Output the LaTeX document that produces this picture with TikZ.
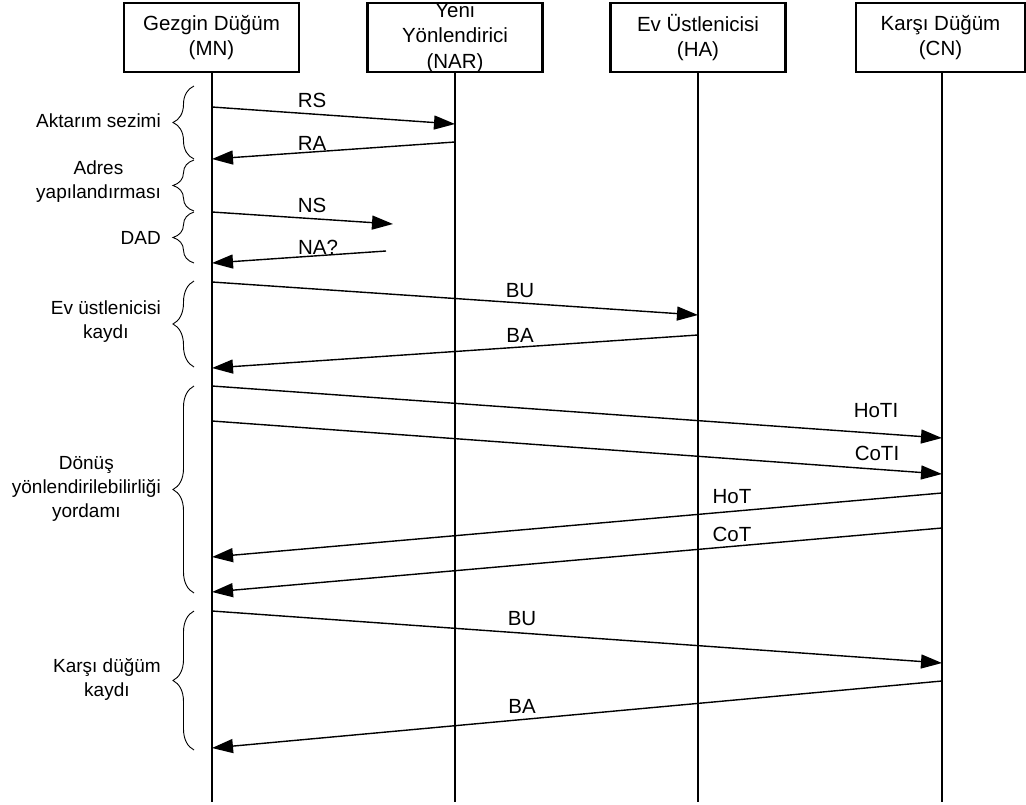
\documentclass[tikz,border=0pt]{standalone}
\usepackage{fontspec}
\setmainfont{Liberation Sans}
\usetikzlibrary{arrows.meta,decorations.pathreplacing}

\tikzset{
  actorbox/.style={draw, line width=2.6pt, minimum width=#1, minimum height=69pt, inner sep=0pt},
  actorbox/.default=175pt,
  headtxt/.style={align=center, inner sep=0pt, font=\fontsize{20.5}{25.5}\selectfont},
  lifeline/.style={line width=2.6pt},
  msg/.style={line width=1.4pt, -{Triangle[length=21pt,width=14pt]}},
  msgtxt/.style={inner sep=0pt, font=\fontsize{20.5}{24}\selectfont},
  phase/.style={line width=0.9pt, decorate, decoration={brace, amplitude=21pt, aspect=0.5}},
  phasetxt/.style={align=center, anchor=east, inner sep=0pt, font=\fontsize{19}{24}\selectfont}
}

\begin{document}
\begin{tikzpicture}[x=1pt, y=-1pt]
  \useasboundingbox (0,0) rectangle (1026,804);

  % participants
  \node[actorbox] (mn)  at (211.5,37.5) {};
  \node[actorbox] (nar) at (455,37.5) {};
  \node[actorbox] (ha)  at (698,37.5) {};
  \node[actorbox=169pt] (cn) at (940.5,37.5) {};
  \node[headtxt] (mnt)  at (mn)  {Gezgin Düğüm\\(MN)};
  \node[headtxt] (nart) at (nar) {Yeni\\Yönlendirici\\(NAR)};
  \node[headtxt] (hat)  at (ha)  {Ev Üstlenicisi\\(HA)};
  \node[headtxt] (cnt)  at (cn)  {Karşı Düğüm\\(CN)};

  % lifelines
  \coordinate (mnend)  at (212,802);
  \coordinate (narend) at (455,802);
  \coordinate (haend)  at (698,802);
  \coordinate (cnend)  at (942,802);
  \draw[lifeline] (mn.south -| mnend) -- (mnend);
  \draw[lifeline] (nar.south -| narend) -- (narend);
  \draw[lifeline] (ha.south -| haend) -- (haend);
  \draw[lifeline] (cn.south -| cnend) -- (cnend);

  % message end points
  \coordinate (rs1) at (212,107);  \coordinate (rs2) at (455,124);
  \coordinate (ra1) at (455,142);  \coordinate (ra2) at (212,159);
  \coordinate (ns1) at (212,212);  \coordinate (ns2) at (393,224);
  \coordinate (na1) at (386,251);  \coordinate (na2) at (212,263);
  \coordinate (bua1) at (212,282); \coordinate (bua2) at (698,315);
  \coordinate (baa1) at (698,335); \coordinate (baa2) at (212,368);
  \coordinate (hoti1) at (212,386); \coordinate (hoti2) at (942,438);
  \coordinate (coti1) at (212,421); \coordinate (coti2) at (942,474);
  \coordinate (hot1) at (942,493); \coordinate (hot2) at (212,557);
  \coordinate (cot1) at (942,528); \coordinate (cot2) at (212,592);
  \coordinate (bub1) at (212,611); \coordinate (bub2) at (942,663);
  \coordinate (bab1) at (942,681); \coordinate (bab2) at (212,748);

  % messages
  \draw[msg] (rs1) -- (rs2);
  \draw[msg] (ra1) -- (ra2);
  \draw[msg] (ns1) -- (ns2);
  \draw[msg] (na1) -- (na2);
  \draw[msg] (bua1) -- (bua2);
  \draw[msg] (baa1) -- (baa2);
  \draw[msg] (hoti1) -- (hoti2);
  \draw[msg] (coti1) -- (coti2);
  \draw[msg] (hot1) -- (hot2);
  \draw[msg] (cot1) -- (cot2);
  \draw[msg] (bub1) -- (bub2);
  \draw[msg] (bab1) -- (bab2);

  % message labels
  \node[msgtxt] (lrs)   at (312,100) {RS};
  \node[msgtxt] (lra)   at (312,143) {RA};
  \node[msgtxt] (lns)   at (312,205) {NS};
  \node[msgtxt] (lna)   at (318,247) {NA?};
  \node[msgtxt] (lbua)  at (520,291) {BU};
  \node[msgtxt] (lbaa)  at (520,335) {BA};
  \node[msgtxt] (lhoti) at (876,411) {HoTI};
  \node[msgtxt] (lcoti) at (877,453) {CoTI};
  \node[msgtxt] (lhot)  at (732,497) {HoT};
  \node[msgtxt] (lcot)  at (732,534) {CoT};
  \node[msgtxt] (lbub)  at (522,619) {BU};
  \node[msgtxt] (lbab)  at (522,706) {BA};

  % phases
  \draw[phase] (194,159) -- (194,86);
  \draw[phase] (194,211) -- (194,160);
  \draw[phase] (194,263) -- (194,212);
  \draw[phase] (194,367) -- (194,281);
  \draw[phase] (194,593) -- (194,386);
  \draw[phase] (194,750) -- (194,611);

  \node[phasetxt] (p1) at (161,121)   {Aktarım sezimi};
  \node[phasetxt] (p2) at (161,181.5) {Adres\\yapılandırması};
  \node[phasetxt] (p3) at (161,238)   {DAD};
  \node[phasetxt] (p4) at (161,321.5) {Ev üstlenicisi\\kaydı};
  \node[phasetxt] (p5) at (161,488.5) {Dönüş\\yönlendirilebilirliği\\yordamı};
  \node[phasetxt] (p6) at (161,679.5) {Karşı düğüm\\kaydı};
\end{tikzpicture}
\end{document}
